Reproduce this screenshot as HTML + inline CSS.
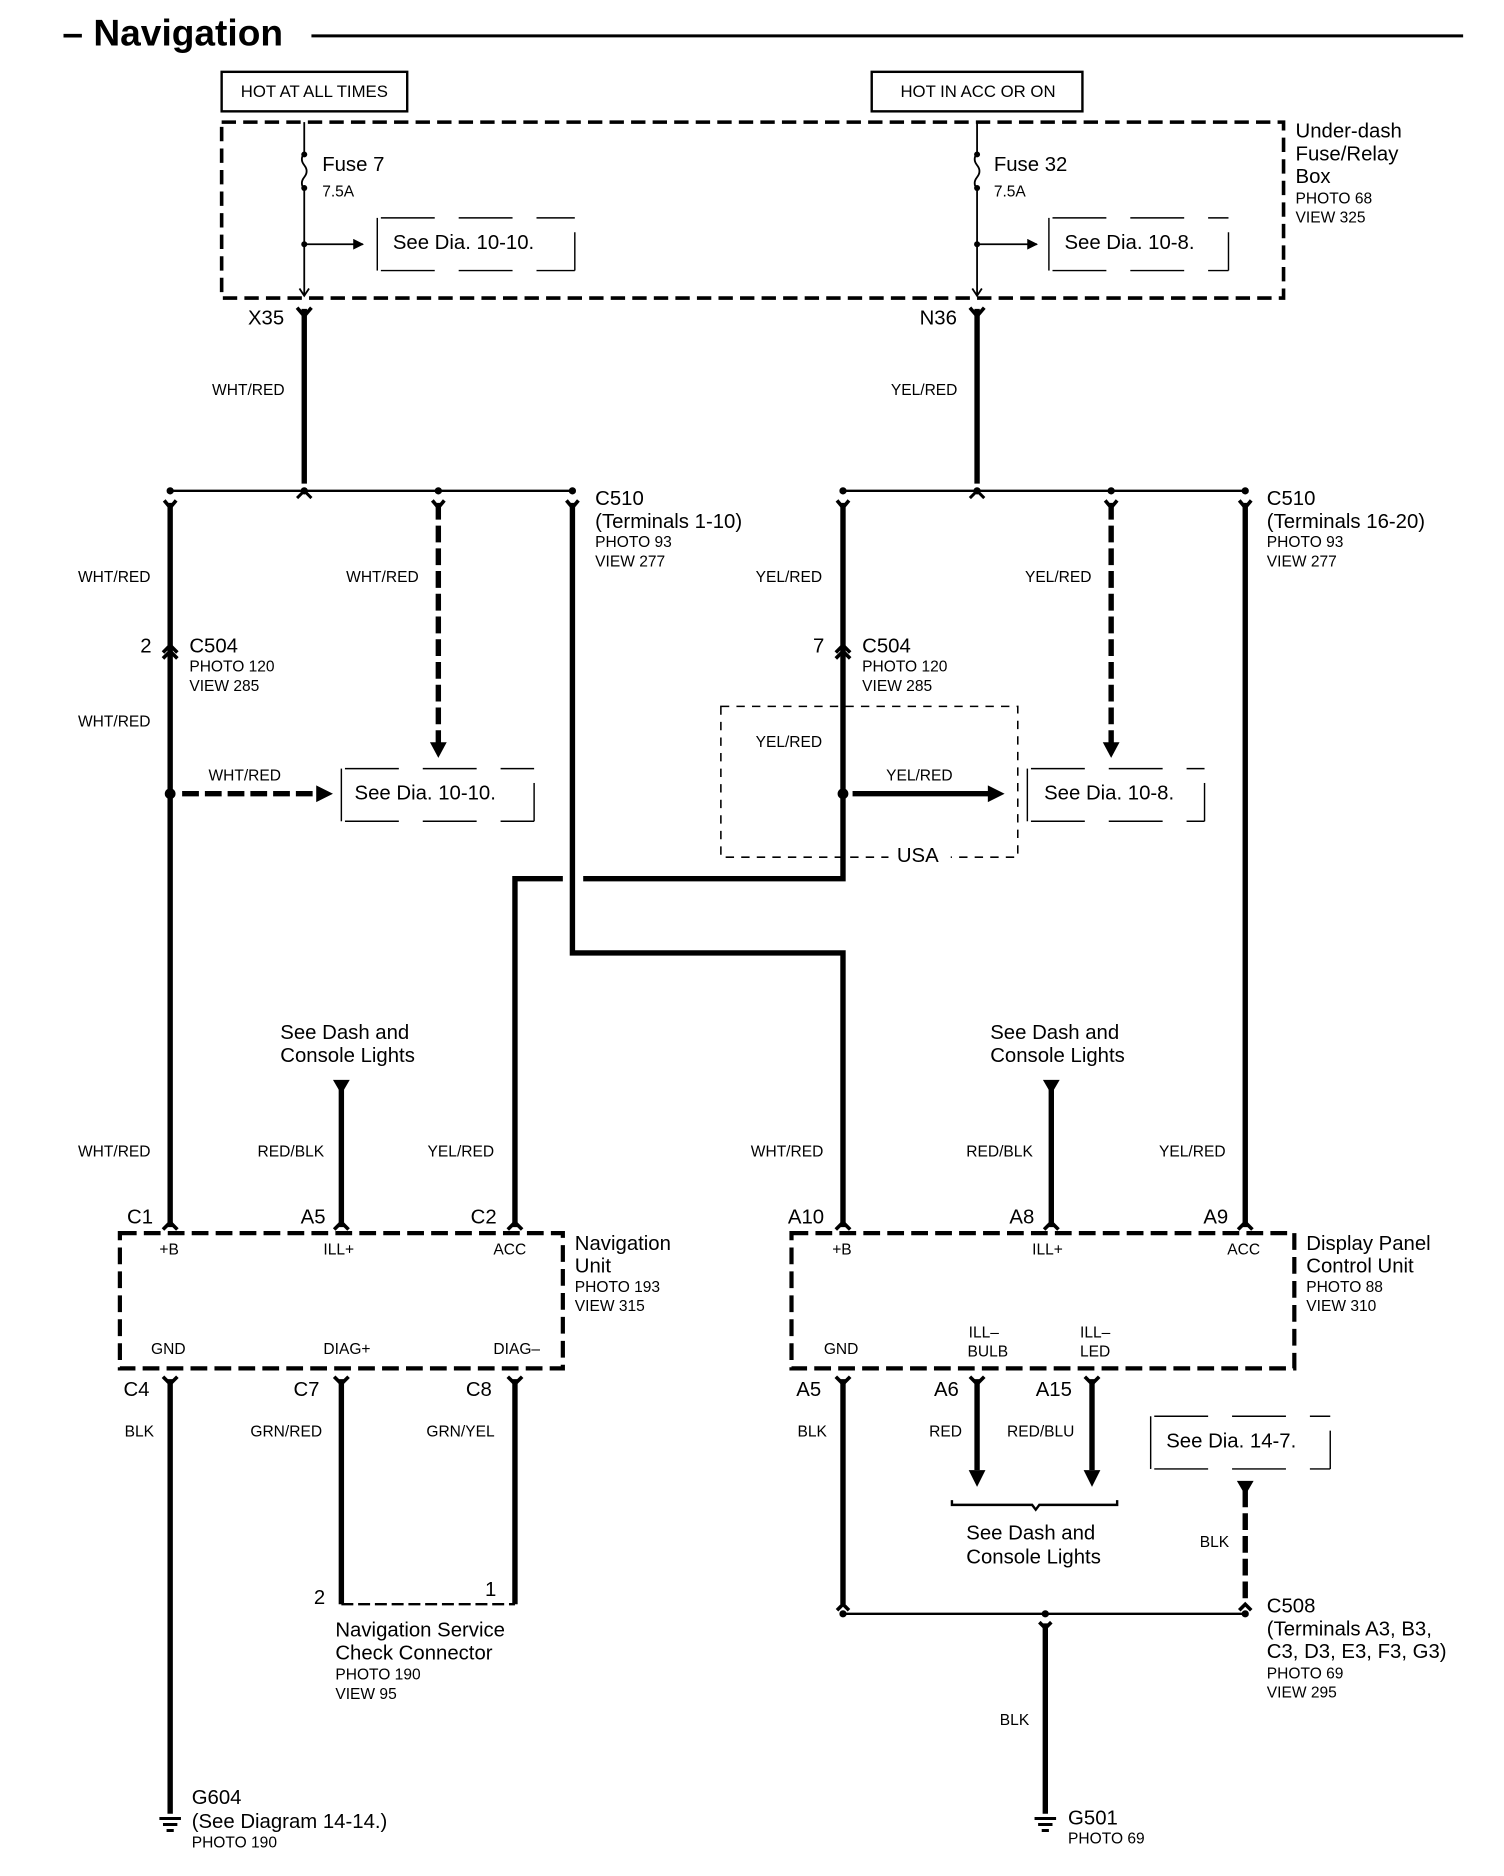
<!DOCTYPE html>
<html><head><meta charset="utf-8"><style>
html,body{margin:0;padding:0;background:#fff}
svg{display:block}
text{font-family:"Liberation Sans",Arial,sans-serif;fill:#000}
.b{font-size:17px}.s{font-size:13px}.m{font-size:14px}
</style></head><body>
<svg width="1504" height="1876" viewBox="0 0 1256 1567" xmlns="http://www.w3.org/2000/svg">
<defs>
<marker id="ahs" viewBox="0 0 10 10" refX="9" refY="5" markerWidth="6" markerHeight="6" orient="auto"><path d="M0,0L10,5L0,10z"/></marker>
</defs>
<g stroke="#000" fill="none">
<line x1="260" y1="30" x2="1222" y2="30" stroke-width="2.5"/>
<rect x="185" y="60" width="155" height="33" stroke-width="2"/>
<rect x="728" y="60" width="176" height="33" stroke-width="2"/>
<rect x="185" y="102" width="887" height="147" stroke-width="3" stroke-dasharray="12,6"/>
<g stroke-width="1.5">
<line x1="254" y1="102" x2="254" y2="128"/><path d="M254,128 q-4,5 0,10 q4,5 0,10 q-4,5 0,10"/><line x1="254" y1="158" x2="254" y2="247"/>
<line x1="816" y1="102" x2="816" y2="128"/><path d="M816,128 q-4,5 0,10 q4,5 0,10 q-4,5 0,10"/><line x1="816" y1="158" x2="816" y2="247"/>
<path d="M250,241 L254,247 L258,241"/><path d="M812,241 L816,247 L820,241"/>
<line x1="254" y1="204" x2="303" y2="204" marker-end="url(#ahs)"/>
<line x1="816" y1="204" x2="866" y2="204" marker-end="url(#ahs)"/>
</g>
<g stroke-width="1.2" stroke-dasharray="45,20">
<path d="M315,182 V226"/><path d="M318,182 H480"/><path d="M318,226 H480"/><path d="M480,194 V226" stroke-dasharray="none"/>
<path d="M876,182 V226"/><path d="M879,182 H1026"/><path d="M879,226 H1026"/><path d="M1026,194 V226" stroke-dasharray="none"/>
<path d="M285,642 V686"/><path d="M288,642 H446"/><path d="M288,686 H446"/><path d="M446,654 V686" stroke-dasharray="none"/>
<path d="M858,642 V686"/><path d="M861,642 H1006"/><path d="M861,686 H1006"/><path d="M1006,654 V686" stroke-dasharray="none"/>
<path d="M961,1183 V1227"/><path d="M964,1183 H1111"/><path d="M964,1227 H1111"/><path d="M1111,1195 V1227" stroke-dasharray="none"/>
</g>
</g>
<g fill="#000">
<circle cx="254" cy="129" r="2.5"/><circle cx="254" cy="157" r="2.5"/><circle cx="254" cy="204" r="2.5"/>
<circle cx="816" cy="129" r="2.5"/><circle cx="816" cy="157" r="2.5"/><circle cx="816" cy="204" r="2.5"/>
<circle cx="142" cy="410" r="3"/><circle cx="254" cy="410" r="3"/><circle cx="366" cy="410" r="3"/><circle cx="478" cy="410" r="3"/>
<circle cx="704" cy="410" r="3"/><circle cx="816" cy="410" r="3"/><circle cx="928" cy="410" r="3"/><circle cx="1040" cy="410" r="3"/>
<circle cx="142" cy="663" r="4.5"/><circle cx="704" cy="663" r="4.5"/>
<circle cx="704" cy="1348" r="3"/><circle cx="873" cy="1348" r="3"/><circle cx="1040" cy="1348" r="3"/>
</g>
<g stroke="#000" fill="none">
<line x1="142" y1="410" x2="478" y2="410" stroke-width="2"/>
<line x1="704" y1="410" x2="1040" y2="410" stroke-width="2"/>
<line x1="704" y1="1348" x2="1040" y2="1348" stroke-width="2"/>
<g stroke-width="4.5">
<path d="M254,258 V404"/><path d="M816,258 V404"/>
<path d="M142,420 V1025"/>
<path d="M478,420 V796 H704 V1025"/>
<path d="M704,420 V734 H487"/><path d="M470,734 H430 V1025"/>
<path d="M1040,420 V1025"/>
<path d="M285,905 V1025"/><path d="M878,905 V1025"/>
<path d="M142,1152 V1515"/><path d="M285,1152 V1340"/><path d="M430,1152 V1340"/>
<path d="M704,1152 V1340"/><path d="M816,1152 V1228"/><path d="M912,1152 V1228"/>
<path d="M873,1356 V1515"/>
</g>
<g stroke-width="4.5" stroke-dasharray="14,5">
<path d="M366,420 V622"/><path d="M928,420 V622"/>
<path d="M1040,1245 V1340"/>
<path d="M152,663 H266"/>
</g>
<path d="M712,663 H826" stroke-width="4.5"/>
<g fill="#000" stroke="none">
<path d="M359,620 L373,620 L366,633z"/><path d="M921,620 L935,620 L928,633z"/>
<path d="M264,656 L264,670 L278,663z"/><path d="M825,656 L825,670 L839,663z"/>
<path d="M278,902 L292,902 L285,914z"/><path d="M871,902 L885,902 L878,914z"/>
<path d="M809,1228 L823,1228 L816,1242z"/><path d="M905,1228 L919,1228 L912,1242z"/>
<path d="M1033,1237 L1047,1237 L1040,1249z"/>
</g>
<g stroke-width="3">
<path d="M248,257 L254,264 L260,257"/><path d="M810,257 L816,264 L822,257"/>
<path d="M248,416 L254,410 L260,416" stroke-width="2.5"/><path d="M810,416 L816,410 L822,416" stroke-width="2.5"/>
<path d="M137,418 L142,424 L147,418"/><path d="M361,418 L366,424 L371,418"/><path d="M473,418 L478,424 L483,418"/>
<path d="M699,418 L704,424 L709,418"/><path d="M923,418 L928,424 L933,418"/><path d="M1035,418 L1040,424 L1045,418"/>
<path d="M136,545 L142,539 L148,545 M136,550 L142,544 L148,550"/>
<path d="M698,545 L704,539 L710,545 M698,550 L704,544 L710,550"/>
<path d="M136,1027 L142,1021 L148,1027"/><path d="M279,1027 L285,1021 L291,1027"/><path d="M424,1027 L430,1021 L436,1027"/>
<path d="M698,1027 L704,1021 L710,1027"/><path d="M872,1027 L878,1021 L884,1027"/><path d="M1034,1027 L1040,1021 L1046,1027"/>
<path d="M136,1150 L142,1156 L148,1150"/><path d="M279,1150 L285,1156 L291,1150"/><path d="M424,1150 L430,1156 L436,1150"/>
<path d="M698,1150 L704,1156 L710,1150"/><path d="M810,1150 L816,1156 L822,1150"/><path d="M906,1150 L912,1156 L918,1150"/>
<path d="M699,1345 L704,1340 L709,1345"/><path d="M1035,1345 L1040,1340 L1045,1345"/>
<path d="M868,1355 L873,1360 L878,1355"/>
</g>
<rect x="100" y="1030" width="370" height="113" stroke-width="3.5" stroke-dasharray="14,6"/>
<rect x="661" y="1030" width="420" height="113" stroke-width="3.5" stroke-dasharray="14,6"/>
<rect x="602" y="590" width="248" height="126" stroke-width="1.3" stroke-dasharray="7,6"/>
<path d="M285,1340 H430" stroke-width="2" stroke-dasharray="10,4"/>
<path d="M795,1253 v4 H862 l3,4 l3,-4 H933 v-4" stroke-width="2"/>
<g stroke-width="2.5"><path d="M133,1519 H151 M136,1524 H148 M139,1529 H145"/>
<path d="M864,1519 H882 M867,1524 H879 M870,1529 H876"/></g>
</g>
<text x="52" y="38" style="font-size:31px;font-weight:bold">– Navigation</text>
<text x="201" y="81" class="m">HOT AT ALL TIMES</text>
<text x="752" y="81" class="m">HOT IN ACC OR ON</text>
<text x="1082" y="115" class="b">Under-dash</text><text x="1082" y="134" class="b">Fuse/Relay</text><text x="1082" y="153" class="b">Box</text>
<text x="1082" y="170" class="s">PHOTO 68</text><text x="1082" y="186" class="s">VIEW 325</text>
<text x="269" y="143" class="b">Fuse 7</text><text x="269" y="164" class="s">7.5A</text>
<text x="830" y="143" class="b">Fuse 32</text><text x="830" y="164" class="s">7.5A</text>
<text x="328" y="208" class="b">See Dia. 10-10.</text><text x="889" y="208" class="b">See Dia. 10-8.</text>
<text x="207" y="271" class="b">X35</text><text x="768" y="271" class="b">N36</text>
<text x="177" y="330" class="s">WHT/RED</text><text x="744" y="330" class="s">YEL/RED</text>
<text x="497" y="422" class="b">C510</text><text x="497" y="441" class="b">(Terminals 1-10)</text><text x="497" y="457" class="s">PHOTO 93</text><text x="497" y="473" class="s">VIEW 277</text>
<text x="1058" y="422" class="b">C510</text><text x="1058" y="441" class="b">(Terminals 16-20)</text><text x="1058" y="457" class="s">PHOTO 93</text><text x="1058" y="473" class="s">VIEW 277</text>
<text x="65" y="486" class="s">WHT/RED</text><text x="289" y="486" class="s">WHT/RED</text>
<text x="631" y="486" class="s">YEL/RED</text><text x="856" y="486" class="s">YEL/RED</text>
<text x="117" y="545" class="b">2</text><text x="158" y="545" class="b">C504</text><text x="158" y="561" class="s">PHOTO 120</text><text x="158" y="577" class="s">VIEW 285</text>
<text x="679" y="545" class="b">7</text><text x="720" y="545" class="b">C504</text><text x="720" y="561" class="s">PHOTO 120</text><text x="720" y="577" class="s">VIEW 285</text>
<text x="65" y="607" class="s">WHT/RED</text><text x="631" y="624" class="s">YEL/RED</text>
<text x="174" y="652" class="s">WHT/RED</text><text x="740" y="652" class="s">YEL/RED</text>
<text x="296" y="668" class="b">See Dia. 10-10.</text><text x="872" y="668" class="b">See Dia. 10-8.</text>
<rect x="742" y="706" width="52" height="18" fill="#fff"/>
<text x="749" y="720" class="b">USA</text>
<text x="234" y="868" class="b">See Dash and</text><text x="234" y="887" class="b">Console Lights</text>
<text x="827" y="868" class="b">See Dash and</text><text x="827" y="887" class="b">Console Lights</text>
<text x="65" y="966" class="s">WHT/RED</text><text x="215" y="966" class="s">RED/BLK</text><text x="357" y="966" class="s">YEL/RED</text>
<text x="627" y="966" class="s">WHT/RED</text><text x="807" y="966" class="s">RED/BLK</text><text x="968" y="966" class="s">YEL/RED</text>
<text x="106" y="1022" class="b">C1</text><text x="251" y="1022" class="b">A5</text><text x="393" y="1022" class="b">C2</text>
<text x="658" y="1022" class="b">A10</text><text x="843" y="1022" class="b">A8</text><text x="1005" y="1022" class="b">A9</text>
<text x="133" y="1048" class="s">+B</text><text x="270" y="1048" class="s">ILL+</text><text x="412" y="1048" class="s">ACC</text>
<text x="695" y="1048" class="s">+B</text><text x="862" y="1048" class="s">ILL+</text><text x="1025" y="1048" class="s">ACC</text>
<text x="480" y="1044" class="b">Navigation</text><text x="480" y="1063" class="b">Unit</text><text x="480" y="1079" class="s">PHOTO 193</text><text x="480" y="1095" class="s">VIEW 315</text>
<text x="1091" y="1044" class="b">Display Panel</text><text x="1091" y="1063" class="b">Control Unit</text><text x="1091" y="1079" class="s">PHOTO 88</text><text x="1091" y="1095" class="s">VIEW 310</text>
<text x="126" y="1131" class="s">GND</text><text x="270" y="1131" class="s">DIAG+</text><text x="412" y="1131" class="s">DIAG–</text>
<text x="688" y="1131" class="s">GND</text><text x="809" y="1117" class="s">ILL–</text><text x="808" y="1133" class="s">BULB</text><text x="902" y="1117" class="s">ILL–</text><text x="902" y="1133" class="s">LED</text>
<text x="103" y="1166" class="b">C4</text><text x="245" y="1166" class="b">C7</text><text x="389" y="1166" class="b">C8</text>
<text x="665" y="1166" class="b">A5</text><text x="780" y="1166" class="b">A6</text><text x="865" y="1166" class="b">A15</text>
<text x="104" y="1200" class="s">BLK</text><text x="209" y="1200" class="s">GRN/RED</text><text x="356" y="1200" class="s">GRN/YEL</text>
<text x="666" y="1200" class="s">BLK</text><text x="776" y="1200" class="s">RED</text><text x="841" y="1200" class="s">RED/BLU</text>
<text x="974" y="1209" class="b">See Dia. 14-7.</text>
<text x="807" y="1286" class="b">See Dash and</text><text x="807" y="1306" class="b">Console Lights</text>
<text x="1002" y="1292" class="s">BLK</text>
<text x="262" y="1340" class="b">2</text><text x="405" y="1333" class="b">1</text>
<text x="280" y="1367" class="b">Navigation Service</text><text x="280" y="1386" class="b">Check Connector</text><text x="280" y="1403" class="s">PHOTO 190</text><text x="280" y="1419" class="s">VIEW 95</text>
<text x="1058" y="1347" class="b">C508</text><text x="1058" y="1366" class="b">(Terminals A3, B3,</text><text x="1058" y="1385" class="b">C3, D3, E3, F3, G3)</text><text x="1058" y="1402" class="s">PHOTO 69</text><text x="1058" y="1418" class="s">VIEW 295</text>
<text x="835" y="1441" class="s">BLK</text>
<text x="160" y="1507" class="b">G604</text><text x="160" y="1527" class="b">(See Diagram 14-14.)</text><text x="160" y="1543" class="s">PHOTO 190</text>
<text x="892" y="1524" class="b">G501</text><text x="892" y="1540" class="s">PHOTO 69</text>
</svg>
</body></html>
